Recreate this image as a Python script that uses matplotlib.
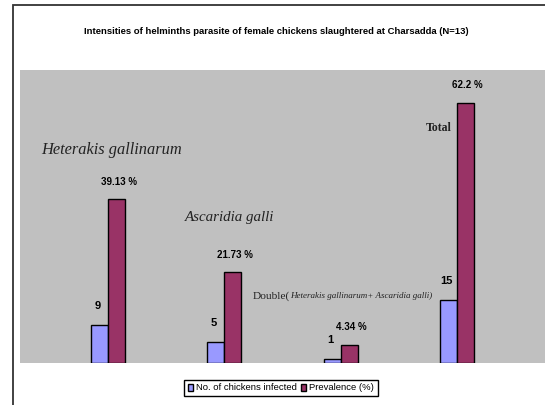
import matplotlib.pyplot as plt
from matplotlib.patches import Rectangle

categories = ['Heterakis gallinarum', 'Ascaridia galli', 'Double', 'Total']
infected = [9, 5, 1, 15]
prevalence = [39.13, 21.73, 4.34, 62.2]
prev_labels = ['39.13 %', '21.73 %', '4.34 %', '62.2 %']

narrow = ['Liberation Sans', 'DejaVu Sans']
serif = ['Liberation Serif', 'DejaVu Serif']

fig = plt.figure(figsize=(5.45, 4.05), dpi=100)
fig.patches.append(Rectangle((13 / 545, -0.1), 1.2, 1.1 - 5 / 405, transform=fig.transFigure,
                             fill=False, edgecolor='#333333', linewidth=1.3))

ax = fig.add_axes([20 / 545, 42 / 405, 525 / 545, 293 / 405])
ax.set_facecolor('#C0C0C0')
for s in ax.spines.values():
    s.set_visible(False)
ax.set_xticks([])
ax.set_yticks([])

x = list(range(len(categories)))
w = 0.145
b1 = ax.bar([i - w / 2 for i in x], infected, w, color='#9999FF', edgecolor='black',
            linewidth=1, label='No. of chickens infected')
b2 = ax.bar([i + w / 2 for i in x], prevalence, w, color='#993366', edgecolor='black',
            linewidth=1, label='Prevalence (%)')
ax.set_xlim(-0.757, 3.757)
ax.set_ylim(0, 70)

for rect, v in zip(b1, infected):
    ax.annotate(str(v), (rect.get_x() + rect.get_width() / 2 - 0.015, rect.get_height()),
                xytext=(0, 10), textcoords='offset points', ha='center', va='bottom',
                fontsize=8, fontweight='bold', family=narrow)
for rect, lab in zip(b2, prev_labels):
    ax.annotate(lab, (rect.get_x() + rect.get_width() / 2 + 0.02, rect.get_height()),
                xytext=(0, 9), textcoords='offset points', ha='center', va='bottom',
                fontsize=7, fontweight='bold', family=narrow)

ax.text((112 - 20) / 525, (363 - 150) / 293, 'Heterakis gallinarum', transform=ax.transAxes,
        ha='center', va='center', fontsize=11.8, style='italic', family=serif, color='#222222')
ax.text((230 - 20) / 525, (363 - 218) / 293, 'Ascaridia galli', transform=ax.transAxes,
        ha='center', va='center', fontsize=10.8, style='italic', family=serif, color='#222222')
t = ax.text((253 - 20) / 525, (363 - 296) / 293, 'Double(', transform=ax.transAxes,
            ha='left', va='center', fontsize=8.2, family=serif, color='#222222')
ax.annotate('Heterakis gallinarum+ Ascaridia galli)', xy=(1, 0.5), xycoords=t,
            ha='left', va='center', fontsize=6.5, style='italic', family=serif, color='#222222')
ax.text((439 - 20) / 525, (363 - 128) / 293, 'Total', transform=ax.transAxes,
        ha='center', va='center', fontsize=8.5, fontweight='bold', family=serif, color='#222222')

fig.text(276 / 545, 1 - 31 / 405,
         'Intensities of helminths parasite of female chickens slaughtered at Charsadda (N=13)',
         ha='center', va='center', fontsize=6.8, fontweight='bold', family=narrow)

leg = fig.legend(handles=[b1, b2], loc='center', bbox_to_anchor=(281 / 545, 1 - 388 / 405),
                 ncol=2, frameon=True, fancybox=False, edgecolor='black', framealpha=1,
                 prop={'family': narrow, 'size': 6.8}, handlelength=0.5, handleheight=0.8,
                 handletextpad=0.3, columnspacing=0.5, borderpad=0.4, borderaxespad=0)
leg.get_frame().set_linewidth(1)

fig.savefig('out.png', dpi=100)
